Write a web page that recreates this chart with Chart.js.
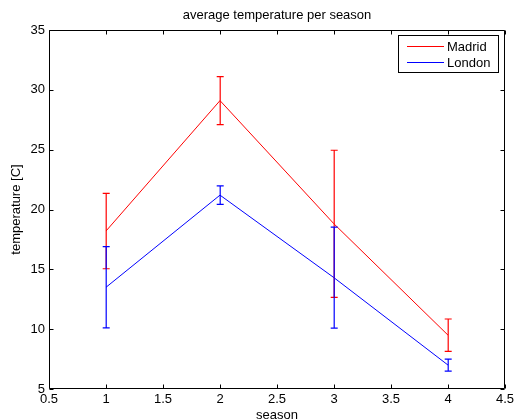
<!DOCTYPE html>
<html>
<head>
<meta charset="utf-8">
<script src="https://cdn.jsdelivr.net/npm/chart.js@4/dist/chart.umd.min.js"></script>
<style>
html,body{margin:0;padding:0;background:#fff;}
#wrap{width:514px;height:419px;position:relative;}
</style>
</head>
<body>
<div id="wrap"><canvas id="c" width="514" height="419"></canvas></div>
<script>
const seasons = [1, 2, 3, 4];
const madrid = [18.2, 29.1, 18.8, 9.5];
const madridErr = [3.15, 2.0, 6.15, 1.35];
const london = [13.5, 21.2, 14.3, 7.0];
const londonErr = [3.4, 0.77, 4.22, 0.5];
const seriesNames = ['Madrid', 'London'];
const titleText = 'average temperature per season';
const xLabel = 'season';
const yLabel = 'temperature [C]';

const FONT = "'Liberation Sans', Arial, Helvetica, sans-serif";

const errorBars = {
  id: 'errorBars',
  afterDatasetsDraw(chart) {
    const ctx = chart.ctx, xs = chart.scales.x, ys = chart.scales.y;
    chart.data.datasets.forEach(ds => {
      ctx.save();
      ctx.strokeStyle = ds.borderColor;
      ctx.lineWidth = 1.2;
      ds.data.forEach((p, i) => {
        const e = ds.errors[i];
        const x = xs.getPixelForValue(p.x) + 0.2;
        const yt = ys.getPixelForValue(p.y + e);
        const yb = ys.getPixelForValue(p.y - e);
        ctx.beginPath();
        ctx.moveTo(x, yt); ctx.lineTo(x, yb);
        ctx.moveTo(x - 3.5, yt); ctx.lineTo(x + 3.5, yt);
        ctx.moveTo(x - 3.5, yb); ctx.lineTo(x + 3.5, yb);
        ctx.stroke();
      });
      ctx.restore();
    });
  }
};

const frame = {
  id: 'frame',
  afterDraw(chart) {
    const ctx = chart.ctx, a = chart.chartArea, xs = chart.scales.x, ys = chart.scales.y;
    const L = Math.round(a.left) + 0.5, R = Math.round(a.right) - 0.5, T = Math.round(a.top) + 0.5, B = Math.round(a.bottom) - 0.5;
    ctx.save();
    ctx.strokeStyle = '#000';
    ctx.lineWidth = 1;
    ctx.beginPath();
    ctx.rect(L, T, R - L, B - T);
    const tl = 4;
    xs.ticks.forEach(t => {
      const x = Math.round(xs.getPixelForValue(t.value)) + 0.5;
      ctx.moveTo(x, B); ctx.lineTo(x, B - tl);
      ctx.moveTo(x, T); ctx.lineTo(x, T + tl);
    });
    ys.ticks.forEach(t => {
      const y = Math.round(ys.getPixelForValue(t.value)) + 0.5;
      ctx.moveTo(L, y); ctx.lineTo(L + tl, y);
      ctx.moveTo(R, y); ctx.lineTo(R - tl, y);
    });
    ctx.stroke();

    // title centred over the plot area
    ctx.font = '13px ' + FONT;
    ctx.fillStyle = '#000';
    ctx.textAlign = 'center';
    ctx.textBaseline = 'alphabetic';
    ctx.fillText(titleText, (a.left + a.right) / 2, 19);

    // legend
    const bx = 398.5, by = 35.5, bw = 100, bh = 37;
    ctx.fillStyle = '#fff';
    ctx.fillRect(bx, by, bw, bh);
    ctx.strokeRect(bx, by, bw, bh);
    ctx.textBaseline = 'middle';
    ctx.textAlign = 'left';
    chart.data.datasets.forEach((ds, i) => {
      const y = Math.round(by + 10 + i * 16.6) + 0.5;
      ctx.strokeStyle = ds.borderColor;
      ctx.beginPath();
      ctx.moveTo(407, y); ctx.lineTo(444, y);
      ctx.stroke();
      ctx.fillStyle = '#000';
      ctx.fillText(ds.label, 447, y + 1);
    });
    ctx.restore();
  }
};

new Chart(document.getElementById('c'), {
  type: 'line',
  data: {
    datasets: [
      { label: seriesNames[0], data: seasons.map((s, i) => ({x: s, y: madrid[i]})), errors: madridErr,
        borderColor: '#ff0000', backgroundColor: '#ff0000', borderWidth: 1, pointRadius: 0, tension: 0, fill: false },
      { label: seriesNames[1], data: seasons.map((s, i) => ({x: s, y: london[i]})), errors: londonErr,
        borderColor: '#0000ff', backgroundColor: '#0000ff', borderWidth: 1, pointRadius: 0, tension: 0, fill: false }
    ]
  },
  options: {
    responsive: false,
    animation: false,
    events: [],
    layout: { padding: { top: 30, right: 9, left: 0, bottom: 0 } },
    plugins: {
      legend: { display: false },
      tooltip: { enabled: false },
      title: { display: false }
    },
    scales: {
      x: {
        type: 'linear', min: 0.5, max: 4.5,
        ticks: { stepSize: 0.5, autoSkip: false, maxRotation: 0, color: '#000', font: { family: FONT, size: 13 }, padding: 3, callback: v => String(v) },
        grid: { display: false, drawTicks: false },
        border: { display: false },
        title: { display: true, text: xLabel, color: '#000', font: { family: FONT, size: 13, lineHeight: 1.2 }, padding: { top: 0, bottom: -4.3 } },
        afterFit: s => { s.height = 30; s.paddingLeft = 0; s.paddingRight = 0; }
      },
      y: {
        min: 5, max: 35,
        ticks: { stepSize: 5, color: '#000', font: { family: FONT, size: 13 }, padding: 4 },
        grid: { display: false, drawTicks: false },
        border: { display: false },
        title: { display: true, text: yLabel, color: '#000', font: { family: FONT, size: 13, lineHeight: 1.2 }, padding: { top: 9, bottom: 0 } },
        afterFit: s => { s.width = 49; }
      }
    }
  },
  plugins: [errorBars, frame]
});
</script>
</body>
</html>
